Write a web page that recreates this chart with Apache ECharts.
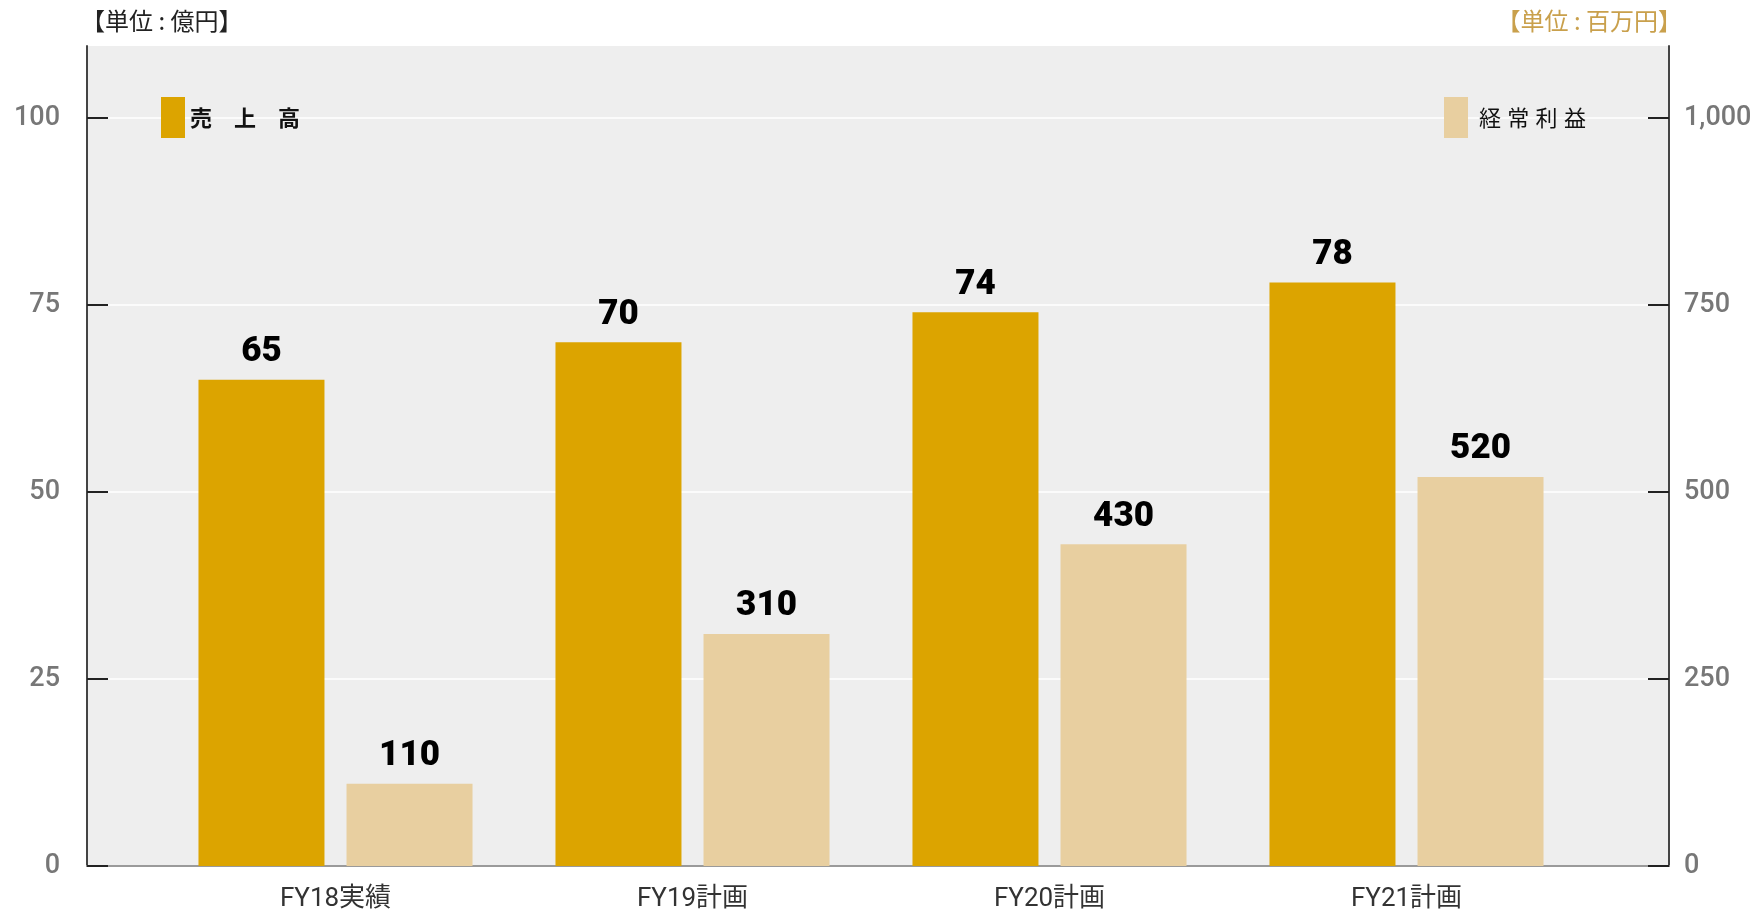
<!DOCTYPE html>
<html lang="ja">
<head>
  <meta charset="UTF-8">
  <title>売上高・経常利益</title>
  <style>
    html, body { margin: 0; padding: 0; background: #fff; }
    #chart { width: 1760px; height: 917px; }
  </style>
</head>
<body>
  <div id="chart"></div>
  <script src="https://cdn.jsdelivr.net/npm/echarts@6/dist/echarts.min.js"></script>
  <script>
    // data
    var categories = ['FY18実績', 'FY19計画', 'FY20計画', 'FY21計画'];
    var sales = [65, 70, 74, 78];          // 売上高（億円）
    var profit = [110, 310, 430, 520];     // 経常利益（百万円）
    var leftTicks = [0, 25, 50, 75, 100];
    var rightTicks = [0, 250, 500, 750, 1000];

    var salesColor = '#dca400';
    var profitColor = '#e8cfa0';
    var num = "'Roboto', 'Liberation Sans', sans-serif";
    var cjk = "'Noto Sans CJK JP', sans-serif";

    function comma(v) {
      return String(v).replace(/\B(?=(\d{3})+(?!\d))/g, ',');
    }

    var chart = echarts.init(document.getElementById('chart'));

    var valueLabel = {
      show: true,
      position: 'top',
      distance: 10,
      fontFamily: num,
      fontWeight: 900,
      fontSize: 35,
      color: '#000'
    };

    var option = {
      animation: false,
      title: [
        {
          text: '【単位 : 億円】',
          left: 81,
          top: 9,
          padding: 0,
          textStyle: { fontFamily: cjk, fontSize: 24, fontWeight: 'normal', color: '#222' }
        },
        {
          text: '【単位 : 百万円】',
          right: 78,
          top: 9,
          padding: 0,
          textStyle: { fontFamily: cjk, fontSize: 24, fontWeight: 'normal', color: '#c9a04c' }
        }
      ],
      legend: [
        {
          data: ['売　上　高'],
          left: 161,
          top: 97,
          padding: 0,
          icon: 'rect',
          itemWidth: 24,
          itemHeight: 41,
          itemStyle: { borderWidth: 0 },
          textStyle: { fontFamily: cjk, fontSize: 22, color: '#111', fontWeight: 'bold' }
        },
        {
          data: ['経 \u200a常 \u200a利 \u200a益'],
          left: 1444,
          top: 97,
          padding: 0,
          icon: 'rect',
          itemWidth: 24,
          itemHeight: 41,
          itemStyle: { borderWidth: 0 },
          textStyle: { fontFamily: cjk, fontSize: 22, color: '#111', fontWeight: 'normal', padding: [0, 0, 0, 6] }
        }
      ],
      grid: [
        // background frame with both value axes
        { left: 87, right: 91, top: 46, bottom: 51, show: true, backgroundColor: '#eeeeee', borderWidth: 0 },
        // bars
        { left: 157, right: 175, top: 46, bottom: 51 }
      ],
      xAxis: [
        {
          gridIndex: 0,
          type: 'value',
          min: 0,
          max: 1,
          axisLine: { show: true, lineStyle: { color: '#9a9a9a', width: 2 } },
          axisTick: { show: false },
          axisLabel: { show: false },
          splitLine: { show: false }
        },
        {
          gridIndex: 1,
          type: 'category',
          data: categories,
          axisLine: { show: false },
          axisTick: { show: false },
          axisLabel: {
            margin: 20,
            fontFamily: num + ", " + cjk,
            fontSize: 26,
            color: '#333'
          }
        }
      ],
      yAxis: [
        {
          gridIndex: 0,
          type: 'value',
          position: 'left',
          min: 0,
          max: 109.6,
          interval: 25,
          axisLine: { show: true, lineStyle: { color: '#444', width: 2 } },
          axisTick: { show: true, inside: true, length: 21, customValues: leftTicks, lineStyle: { color: '#222', width: 2 } },
          axisLabel: {
            customValues: leftTicks,
            margin: 27,
            padding: [10, 0, 0, 0],
            fontFamily: num,
            fontWeight: 500,
            fontSize: 27,
            color: '#777'
          },
          splitLine: { show: true, lineStyle: { color: '#ffffff', width: 1.5 } }
        },
        {
          gridIndex: 0,
          type: 'value',
          position: 'right',
          min: 0,
          max: 1096,
          interval: 250,
          axisLine: { show: true, lineStyle: { color: '#444', width: 2 } },
          axisTick: { show: true, inside: true, length: 21, customValues: rightTicks, lineStyle: { color: '#222', width: 2 } },
          axisLabel: {
            customValues: rightTicks,
            margin: 15,
            fontFamily: num,
            fontWeight: 500,
            fontSize: 27,
            color: '#777',
            formatter: comma
          },
          splitLine: { show: false }
        },
        { gridIndex: 1, type: 'value', min: 0, max: 109.6, show: false },
        { gridIndex: 1, type: 'value', min: 0, max: 1096, show: false }
      ],
      series: [
        {
          name: '売　上　高',
          type: 'bar',
          xAxisIndex: 1,
          yAxisIndex: 2,
          data: sales,
          barWidth: 126,
          barGap: '17.5%',
          itemStyle: { color: salesColor },
          label: valueLabel
        },
        {
          name: '経 \u200a常 \u200a利 \u200a益',
          type: 'bar',
          xAxisIndex: 1,
          yAxisIndex: 3,
          data: profit,
          barWidth: 126,
          barGap: '17.5%',
          itemStyle: { color: profitColor },
          label: valueLabel
        }
      ]
    };

    chart.setOption(option);
  </script>
</body>
</html>
